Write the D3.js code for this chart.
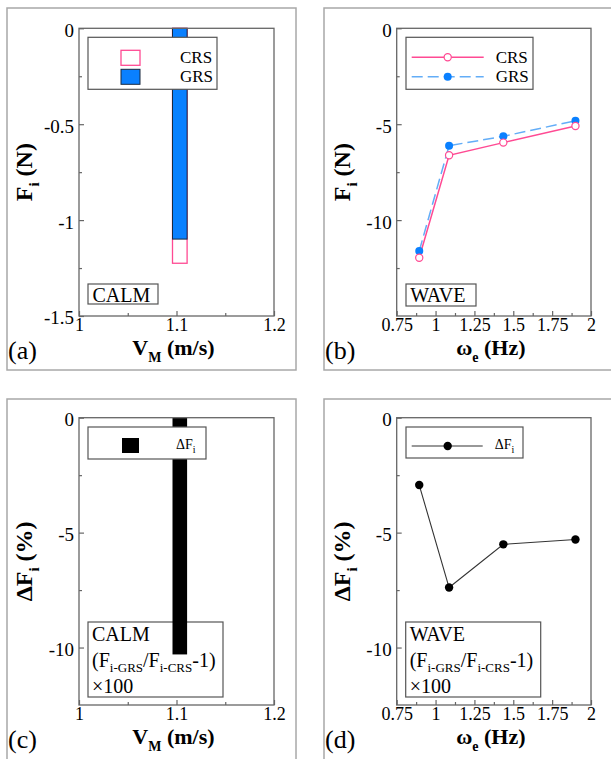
<!DOCTYPE html>
<html>
<head>
<meta charset="utf-8">
<script src="https://cdn.jsdelivr.net/npm/d3@7/dist/d3.min.js"></script>
<style>
  html, body { margin: 0; padding: 0; background: #fff; }
  svg { display: block; }
  text { font-family: "Liberation Serif", "Times New Roman", serif; fill: #000; }
</style>
</head>
<body>
<svg id="chart" width="611" height="759"></svg>
<script>
// ---- data -------------------------------------------------------------
// Calm water: one towing speed
const calmSpeed = [1.1];
const calmCRS = [-1.225];
const calmGRS = [-1.099];
const calmDelta = [-10.3];

// Regular waves: encounter frequencies
const waveFreq = [0.895, 1.087, 1.436, 1.9];
const waveCRS = [-11.96, -6.62, -5.96, -5.09];
const waveGRS = [-11.61, -6.12, -5.63, -4.82];
const waveDelta = [-2.93, -7.39, -5.51, -5.30];

// Axis ticks
const speedTicks = [1, 1.1, 1.2];
const speedMinor = [1.05, 1.15];
const freqTicks = [0.75, 1, 1.25, 1.5, 1.75, 2];
const freqMinor = [0.875, 1.125, 1.375, 1.625, 1.875];
const calmForceTicks = [0, -0.5, -1, -1.5];
const calmForceMinor = [-0.25, -0.75, -1.25];
const waveForceTicks = [0, -5, -10];
const waveForceMinor = [-2.5, -7.5, -12.5];
const deltaTicks = [0, -5, -10];
const deltaMinor = [-2.5, -7.5];

// ---- styles -----------------------------------------------------------
const SERIF = "Liberation Serif, Times New Roman, serif";
const PINK = "#ff4a93";
const BLUE = "#0a80ff";
const LIGHTBLUE = "#63adf7";
const AXIS = "#666";

const svg = d3.select("#chart");

// Writes text made of plain and subscript parts
function rich(sel, parts, size, subSize, drop = 0.3) {
  sel.attr("font-family", SERIF).attr("font-size", size);
  let shifted = 0;
  parts.forEach(([str, sub]) => {
    const want = sub ? size * drop : 0;
    const t = sel.append("tspan").attr("font-size", sub ? subSize : size).text(str);
    if (want !== shifted) t.attr("dy", want - shifted);
    shifted = want;
  });
  return sel;
}

function label(g, x, y, size, str) {
  return g.append("text").attr("x", x).attr("y", y)
    .attr("font-family", SERIF).attr("font-size", size).text(str);
}

function box(g, x0, y0, w, h) {
  g.append("rect").attr("x", x0).attr("y", y0).attr("width", w).attr("height", h)
    .attr("fill", "#fff").attr("stroke", "#555").attr("stroke-width", 1.2);
}

function panel(cfg) {
  const g = svg.append("g");
  // outer frame
  g.append("rect")
    .attr("x", cfg.frame[0]).attr("y", cfg.frame[1])
    .attr("width", cfg.frame[2]).attr("height", cfg.frame[3])
    .attr("fill", "none").attr("stroke", "#a8a8a8").attr("stroke-width", 1.5);

  const L = cfg.plot[0], T = cfg.plot[1], R = cfg.plot[2], B = cfg.plot[3];
  const x = d3.scaleLinear().domain(cfg.xDomain).range([L, R]);
  const y = d3.scaleLinear().domain(cfg.yDomain).range([T, B]);

  // axes: ticks point inward
  const yAxis = g.append("g").attr("transform", `translate(${L},0)`)
    .call(d3.axisLeft(y).tickValues(cfg.yTicks).tickSize(-5).tickPadding(5)
      .tickFormat(d => String(d)));
  const yMinor = g.append("g").attr("transform", `translate(${L},0)`)
    .call(d3.axisLeft(y).tickValues(cfg.yMinor).tickSize(-3));
  const xAxis = g.append("g").attr("transform", `translate(0,${B})`)
    .call(d3.axisBottom(x).tickValues(cfg.xTicks).tickSize(-5).tickPadding(4)
      .tickFormat(d => String(d)));
  const xMinor = g.append("g").attr("transform", `translate(0,${B})`)
    .call(d3.axisBottom(x).tickValues(cfg.xMinor).tickSize(-3));
  yMinor.selectAll("text").remove();
  xMinor.selectAll("text").remove();
  g.selectAll(".domain").remove();
  g.selectAll(".tick line").attr("stroke", AXIS).attr("stroke-width", 1.2);
  yAxis.selectAll(".tick text")
    .attr("font-family", SERIF).attr("font-size", 19).attr("fill", "#000").attr("dy", "0.42em");
  xAxis.selectAll(".tick text")
    .attr("font-family", SERIF).attr("font-size", 18).attr("fill", "#000").attr("dy", "0.62em");

  // annotation box sits beneath the data
  if (cfg.note) cfg.note(g, L, T, R, B);

  const plot = g.append("g");
  cfg.draw(plot, x, y);

  // plot border
  g.append("rect").attr("x", L).attr("y", T).attr("width", R - L).attr("height", B - T)
    .attr("fill", "none").attr("stroke", AXIS).attr("stroke-width", 1.3);

  // legend drawn on top
  if (cfg.legend) cfg.legend(g, L, T, R, B);

  // axis titles
  const yt = g.append("text")
    .attr("transform", `translate(${L - 47},${(T + B) / 2}) rotate(-90)`)
    .attr("text-anchor", "middle").attr("font-weight", "bold");
  rich(yt, cfg.yTitle, 24, 15);
  const xt = g.append("text")
    .attr("x", (L + R) / 2 - 3).attr("y", B + 39)
    .attr("text-anchor", "middle").attr("font-weight", "bold");
  rich(xt, cfg.xTitle, 22, 14);

  // panel letter
  label(g, cfg.frame[0] + 1, B + 43, 26, cfg.letter);
}

// bars sit just right of their speed value
const barLeft = -4, barWidth = 14.6;

function ratioNote(g, L, name) {
  box(g, L + 9, 622, 135, 75);
  label(g, L + 13, 641, 20, name);
  const t = g.append("text").attr("x", L + 13).attr("y", 667);
  rich(t, [["(F"], ["i-GRS", true], ["/F"], ["i-CRS", true], ["-1)"]], 20, 13, 0.25);
  label(g, L + 13, 693, 20, "\u00d7100");
}

// (a) calm water force
panel({
  frame: [7, 8, 289, 362], plot: [79, 28.3, 274, 316],
  xDomain: [1, 1.2], yDomain: [0, -1.5],
  xTicks: speedTicks, xMinor: speedMinor,
  yTicks: calmForceTicks, yMinor: calmForceMinor,
  yTitle: [["F"], ["i", true], [" (N)"]],
  xTitle: [["V"], ["M", true], [" (m/s)"]],
  letter: "(a)",
  note: (g, L) => {
    box(g, L + 9, 284, 70, 20);
    label(g, L + 13.5, 301.5, 20, "CALM");
  },
  draw: (p, x, y) => {
    p.selectAll(".crs").data(calmSpeed).join("rect")
      .attr("x", d => x(d) + barLeft).attr("width", barWidth)
      .attr("y", y(0)).attr("height", (d, i) => y(calmCRS[i]) - y(0))
      .attr("fill", "#fff").attr("stroke", PINK).attr("stroke-width", 1.3);
    p.selectAll(".grs").data(calmSpeed).join("rect")
      .attr("x", d => x(d) + barLeft).attr("width", barWidth)
      .attr("y", y(0)).attr("height", (d, i) => y(calmGRS[i]) - y(0))
      .attr("fill", BLUE).attr("stroke", "#1a2a40").attr("stroke-width", 1);
  },
  legend: (g, L, T) => {
    box(g, L + 9, T + 9, 129, 52);
    g.append("rect").attr("x", L + 42).attr("y", T + 22).attr("width", 19).attr("height", 15)
      .attr("fill", "#fff").attr("stroke", PINK).attr("stroke-width", 1.3);
    g.append("rect").attr("x", L + 42).attr("y", T + 41).attr("width", 19).attr("height", 15)
      .attr("fill", BLUE).attr("stroke", "#1a2a40").attr("stroke-width", 1);
    label(g, L + 101, T + 35, 17, "CRS");
    label(g, L + 101, T + 54, 17, "GRS");
  }
});

// (b) wave force
panel({
  frame: [324, 8, 300, 362], plot: [396.7, 28.3, 591, 316],
  xDomain: [0.75, 2], yDomain: [0, -15],
  xTicks: freqTicks, xMinor: freqMinor,
  yTicks: waveForceTicks, yMinor: waveForceMinor,
  yTitle: [["F"], ["i", true], [" (N)"]],
  xTitle: [["\u03c9"], ["e", true], [" (Hz)"]],
  letter: "(b)",
  note: (g, L) => {
    box(g, L + 9.3, 284, 70, 22);
    label(g, L + 13.5, 302, 20, "WAVE");
  },
  draw: (p, x, y) => {
    const grs = waveFreq.map((f, i) => [f, waveGRS[i]]);
    const crs = waveFreq.map((f, i) => [f, waveCRS[i]]);
    const line = d3.line().x(d => x(d[0])).y(d => y(d[1]));
    p.append("path").datum(grs).attr("d", line).attr("fill", "none")
      .attr("stroke", LIGHTBLUE).attr("stroke-width", 1.5).attr("stroke-dasharray", "11,5");
    p.append("path").datum(crs).attr("d", line).attr("fill", "none")
      .attr("stroke", PINK).attr("stroke-width", 1.5);
    p.selectAll(".g").data(grs).join("circle")
      .attr("cx", d => x(d[0])).attr("cy", d => y(d[1])).attr("r", 4)
      .attr("fill", BLUE);
    p.selectAll(".c").data(crs).join("circle")
      .attr("cx", d => x(d[0])).attr("cy", d => y(d[1])).attr("r", 3.6)
      .attr("fill", "#fff").attr("stroke", PINK).attr("stroke-width", 1.2);
  },
  legend: (g, L, T) => {
    box(g, L + 9.3, T + 9, 127, 52);
    g.append("line").attr("x1", L + 15).attr("x2", L + 87).attr("y1", T + 29).attr("y2", T + 29)
      .attr("stroke", PINK).attr("stroke-width", 1.5);
    g.append("circle").attr("cx", L + 51).attr("cy", T + 29).attr("r", 3.6)
      .attr("fill", "#fff").attr("stroke", PINK).attr("stroke-width", 1.2);
    g.append("line").attr("x1", L + 15).attr("x2", L + 87).attr("y1", T + 48.5).attr("y2", T + 48.5)
      .attr("stroke", LIGHTBLUE).attr("stroke-width", 1.5).attr("stroke-dasharray", "11,5");
    g.append("circle").attr("cx", L + 51).attr("cy", T + 48.5).attr("r", 4).attr("fill", BLUE);
    label(g, L + 99, T + 35, 17, "CRS");
    label(g, L + 99, T + 54, 17, "GRS");
  }
});

// (c) calm water difference
panel({
  frame: [7, 399, 289, 380], plot: [79, 417.7, 274, 705],
  xDomain: [1, 1.2], yDomain: [0, -12.5],
  xTicks: speedTicks, xMinor: speedMinor,
  yTicks: deltaTicks, yMinor: deltaMinor,
  yTitle: [["\u0394F"], ["i", true], [" (%)"]],
  xTitle: [["V"], ["M", true], [" (m/s)"]],
  letter: "(c)",
  note: (g, L) => ratioNote(g, L, "CALM"),
  draw: (p, x, y) => {
    p.selectAll(".d").data(calmSpeed).join("rect")
      .attr("x", d => x(d) + barLeft).attr("width", barWidth)
      .attr("y", y(0)).attr("height", (d, i) => y(calmDelta[i]) - y(0))
      .attr("fill", "#000");
  },
  legend: (g, L, T) => {
    box(g, L + 9, T + 9.3, 118, 32);
    g.append("rect").attr("x", L + 43).attr("y", T + 20.3).attr("width", 17).attr("height", 15)
      .attr("fill", "#000");
    const t = g.append("text").attr("x", L + 97).attr("y", T + 31);
    rich(t, [["\u0394F"], ["i", true]], 14, 10);
  }
});

// (d) wave difference
panel({
  frame: [324, 399, 300, 380], plot: [396.7, 417.7, 591, 705],
  xDomain: [0.75, 2], yDomain: [0, -12.5],
  xTicks: freqTicks, xMinor: freqMinor,
  yTicks: deltaTicks, yMinor: deltaMinor,
  yTitle: [["\u0394F"], ["i", true], [" (%)"]],
  xTitle: [["\u03c9"], ["e", true], [" (Hz)"]],
  letter: "(d)",
  note: (g, L) => ratioNote(g, L, "WAVE"),
  draw: (p, x, y) => {
    const pts = waveFreq.map((f, i) => [f, waveDelta[i]]);
    p.append("path").datum(pts)
      .attr("d", d3.line().x(d => x(d[0])).y(d => y(d[1])))
      .attr("fill", "none").attr("stroke", "#333").attr("stroke-width", 1.1);
    p.selectAll(".m").data(pts).join("circle")
      .attr("cx", d => x(d[0])).attr("cy", d => y(d[1])).attr("r", 4.2).attr("fill", "#000");
  },
  legend: (g, L, T) => {
    box(g, L + 9.3, T + 9.3, 117, 31);
    g.append("line").attr("x1", L + 15).attr("x2", L + 86).attr("y1", T + 28.3).attr("y2", T + 28.3)
      .attr("stroke", "#333").attr("stroke-width", 1.1);
    g.append("circle").attr("cx", L + 51).attr("cy", T + 28.3).attr("r", 4.2).attr("fill", "#000");
    const t = g.append("text").attr("x", L + 98).attr("y", T + 31);
    rich(t, [["\u0394F"], ["i", true]], 14, 10);
  }
});
</script>
</body>
</html>
